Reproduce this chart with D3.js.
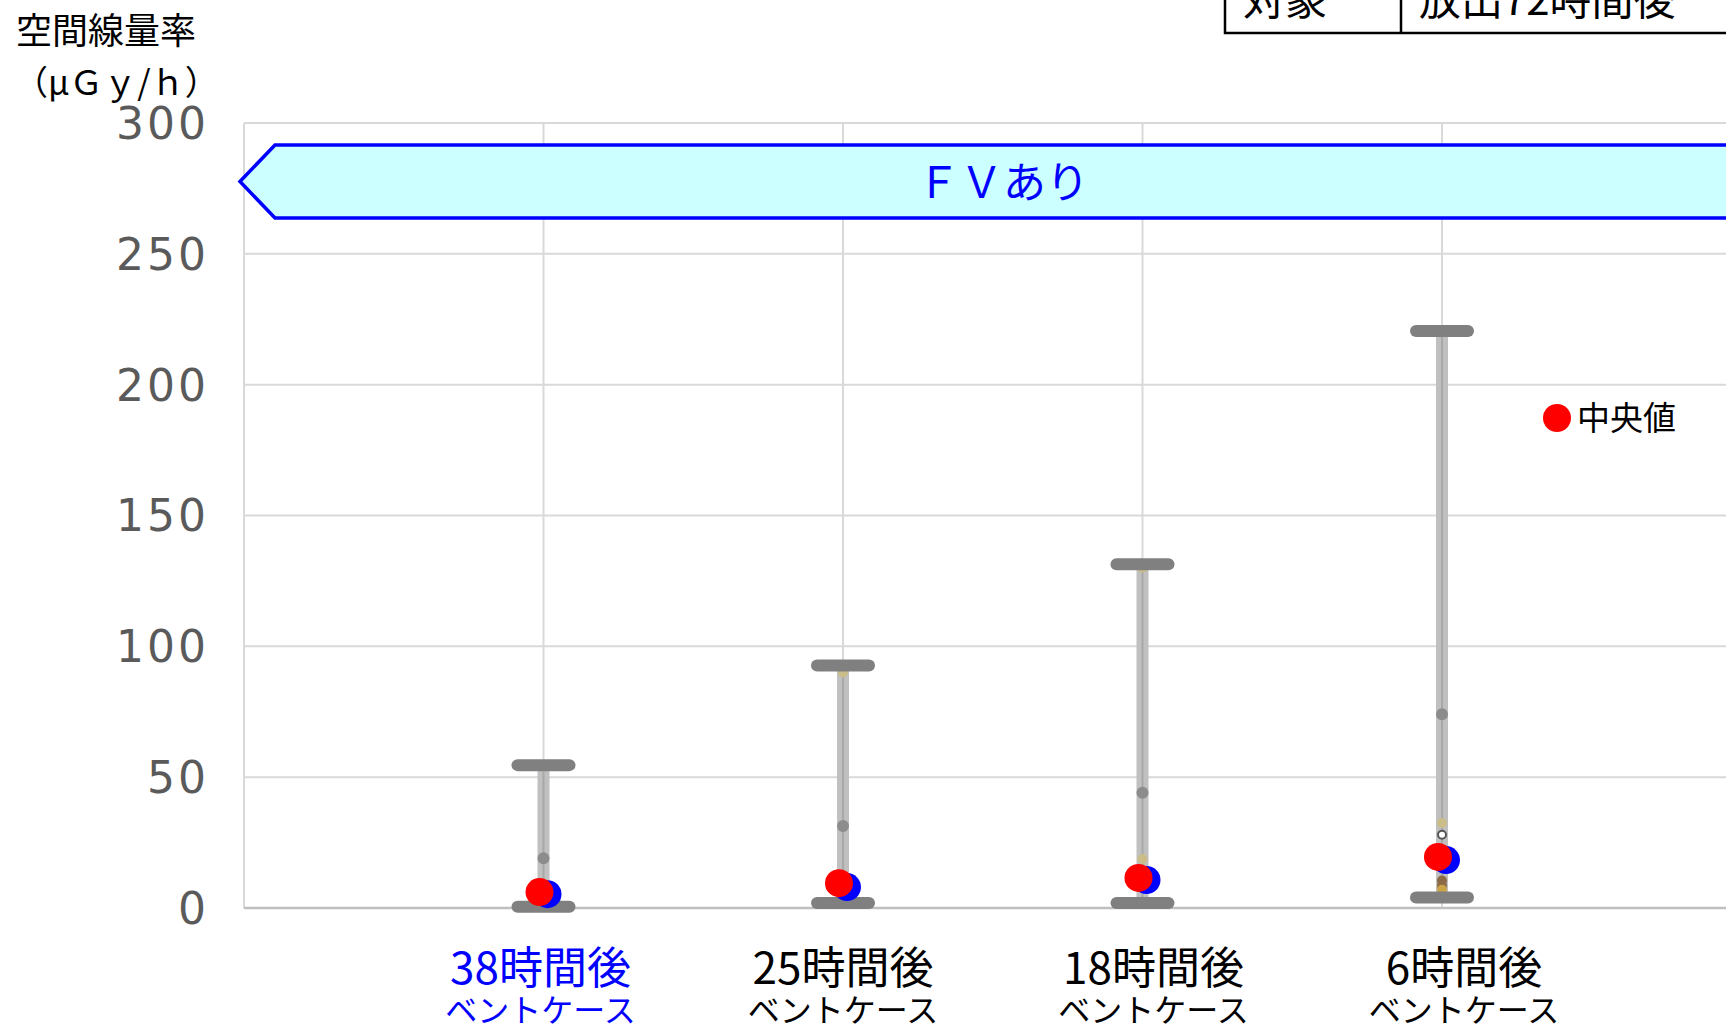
<!DOCTYPE html>
<html>
<head>
<meta charset="utf-8">
<script src="https://cdn.jsdelivr.net/npm/d3@7"></script>
<style>
  html, body { margin: 0; padding: 0; background: #fff; overflow: hidden; }
  svg { display: block; }
</style>
</head>
<body>
<svg id="chart" width="1726" height="1030"></svg>
<script>
// data
const categories = ["38時間後", "25時間後", "18時間後", "6時間後"];
const subLabels = ["ベントケース", "ベントケース", "ベントケース", "ベントケース"];
const maxVals = [54.6, 92.7, 131.4, 220.5];
const minVals = [0.5, 1.9, 1.9, 4.0];
const medianVals = [6.1, 9.5, 11.5, 19.5];
const blueVals = [5.3, 8.0, 10.7, 18.3];
const grayVals = [19.0, 31.3, 44.0, 74.0];
const tanVals = [[54], [90], [130, 18.7], [32.5]];
const smallVals = [[], [], [], [28]];
const brownVals = [[], [], [], [10.5, 8.6, 7.0]];
const yTicks = [0, 50, 100, 150, 200, 250, 300];

const JP = "'Noto Sans CJK JP', 'Noto Sans', sans-serif";
const NUM = "'DejaVu Sans', sans-serif";

const svg = d3.select("#chart");
const W = 1726, H = 1030;
const plot = { left: 244, top: 123, bottom: 908, right: W };

const y = d3.scaleLinear().domain([0, 300]).range([plot.bottom, plot.top]);
// category slots: index 0 is the empty slot at the plot edge
const x = d3.scaleLinear().domain([0, 1]).range([plot.left, plot.left + 299.5]);
const cx = i => x(i + 1);

// gridlines
svg.append("g").selectAll("line")
  .data(yTicks.filter(d => d > 0))
  .join("line")
  .attr("x1", plot.left).attr("x2", plot.right)
  .attr("y1", d => y(d)).attr("y2", d => y(d))
  .attr("stroke", "#d9d9d9").attr("stroke-width", 2);

svg.append("g").selectAll("line")
  .data(categories)
  .join("line")
  .attr("x1", (d, i) => cx(i)).attr("x2", (d, i) => cx(i))
  .attr("y1", plot.top).attr("y2", plot.bottom)
  .attr("stroke", "#d9d9d9").attr("stroke-width", 2);

svg.append("line")
  .attr("x1", plot.left).attr("x2", plot.left)
  .attr("y1", plot.top).attr("y2", plot.bottom)
  .attr("stroke", "#d9d9d9").attr("stroke-width", 2);

// zero axis
svg.append("line")
  .attr("x1", plot.left).attr("x2", plot.right)
  .attr("y1", y(0)).attr("y2", y(0))
  .attr("stroke", "#bfbfbf").attr("stroke-width", 2.5);

// y tick labels
svg.append("g").selectAll("text")
  .data(yTicks)
  .join("text")
  .attr("x", 209)
  .attr("y", d => y(d))
  .attr("dy", "0.36em")
  .attr("text-anchor", "end")
  .attr("font-family", NUM)
  .attr("font-size", 44)
  .attr("letter-spacing", 3)
  .attr("fill", "#5a5a5a")
  .text(d => d);

// FV banner
const bTop = 145, bBot = 218;
svg.append("path")
  .attr("d", `M${plot.left - 4},${(bTop + bBot) / 2} L${plot.left + 31},${bTop} L${W + 5},${bTop} L${W + 5},${bBot} L${plot.left + 31},${bBot} Z`)
  .attr("fill", "#ccffff")
  .attr("stroke", "#0000ff")
  .attr("stroke-width", 3.5);
svg.append("text")
  .attr("x", 1003).attr("y", 198)
  .attr("text-anchor", "middle")
  .attr("font-family", JP).attr("font-size", 43)
  .attr("fill", "#0000ff")
  .text("ＦＶあり");

// whiskers
const g = svg.append("g");
g.selectAll("rect.bar")
  .data(categories)
  .join("rect")
  .attr("class", "bar")
  .attr("x", (d, i) => cx(i) - 6)
  .attr("width", 12)
  .attr("y", (d, i) => y(maxVals[i]))
  .attr("height", (d, i) => y(minVals[i]) - y(maxVals[i]))
  .attr("fill", "#c0c0c0");
g.selectAll("line.core")
  .data(categories)
  .join("line")
  .attr("class", "core")
  .attr("x1", (d, i) => cx(i)).attr("x2", (d, i) => cx(i))
  .attr("y1", (d, i) => y(maxVals[i])).attr("y2", (d, i) => y(minVals[i]))
  .attr("stroke", "#a8a8a8").attr("stroke-width", 2);

// small markers along the bar
categories.forEach((c, i) => {
  g.selectAll(null).data(tanVals[i]).join("circle")
    .attr("cx", cx(i)).attr("cy", d => y(d)).attr("r", 5)
    .attr("fill", "#cbbd8a");
  g.selectAll(null).data(brownVals[i]).join("circle")
    .attr("cx", cx(i)).attr("cy", d => y(d)).attr("r", 5)
    .attr("fill", (d, k) => k === 2 ? "#c9a548" : "#8b6a45");
  g.selectAll(null).data(smallVals[i]).join("circle")
    .attr("cx", cx(i)).attr("cy", d => y(d)).attr("r", 4)
    .attr("fill", "#fff").attr("stroke", "#555").attr("stroke-width", 2);
});

// caps
[maxVals, minVals].forEach(arr => {
  g.selectAll(null).data(arr).join("line")
    .attr("x1", (d, i) => cx(i) - 26).attr("x2", (d, i) => cx(i) + 26)
    .attr("y1", d => y(d)).attr("y2", d => y(d))
    .attr("stroke", "#808080").attr("stroke-width", 12)
    .attr("stroke-linecap", "round");
});

// gray points
g.selectAll("circle.gray")
  .data(grayVals)
  .join("circle")
  .attr("class", "gray")
  .attr("cx", (d, i) => cx(i)).attr("cy", d => y(d)).attr("r", 6)
  .attr("fill", "#8c8c8c");

// blue then red (median)
g.selectAll("circle.blue")
  .data(blueVals)
  .join("circle")
  .attr("class", "blue")
  .attr("cx", (d, i) => cx(i) + 4).attr("cy", d => y(d)).attr("r", 14)
  .attr("fill", "#0000ff");
g.selectAll("circle.med")
  .data(medianVals)
  .join("circle")
  .attr("class", "med")
  .attr("cx", (d, i) => cx(i) - 4).attr("cy", d => y(d)).attr("r", 14)
  .attr("fill", "#ff0000");

// category labels
const labelShift = [-3, 0, 11, 22];
svg.append("g").selectAll("text")
  .data(categories)
  .join("text")
  .attr("x", (d, i) => cx(i) + labelShift[i])
  .attr("y", 984)
  .attr("text-anchor", "middle")
  .attr("font-family", JP).attr("font-size", 44)
  .attr("fill", (d, i) => i === 0 ? "#0000ff" : "#000")
  .text(d => d);
svg.append("g").selectAll("text")
  .data(subLabels)
  .join("text")
  .attr("x", (d, i) => cx(i) + labelShift[i])
  .attr("y", 1022)
  .attr("text-anchor", "middle")
  .attr("font-family", JP).attr("font-size", 32)
  .attr("fill", (d, i) => i === 0 ? "#0000ff" : "#000")
  .text(d => d);

// axis title
svg.append("text")
  .attr("x", 16).attr("y", 44)
  .attr("font-family", JP).attr("font-size", 36)
  .attr("fill", "#000")
  .text("空間線量率");
svg.append("text")
  .attr("x", 14).attr("y", 95)
  .attr("font-family", JP).attr("font-size", 34)
  .attr("fill", "#000")
  .text("（μＧｙ/ｈ）");

// legend
svg.append("circle")
  .attr("cx", 1557).attr("cy", 418).attr("r", 14)
  .attr("fill", "#ff0000");
svg.append("text")
  .attr("x", 1577).attr("y", 430)
  .attr("font-family", JP).attr("font-size", 33)
  .attr("fill", "#000")
  .text("中央値");

// top-right table (cut by the frame)
const tb = svg.append("g");
tb.append("path")
  .attr("d", `M1225,-5 L1225,33 L${W + 5},33 M1401,-5 L1401,33`)
  .attr("fill", "none").attr("stroke", "#000").attr("stroke-width", 2.5);
tb.append("text")
  .attr("x", 1243).attr("y", 15)
  .attr("font-family", JP).attr("font-size", 42)
  .text("対象");
tb.append("text")
  .attr("x", 1419).attr("y", 15)
  .attr("font-family", JP).attr("font-size", 42)
  .text("放出72時間後");
</script>
</body>
</html>
